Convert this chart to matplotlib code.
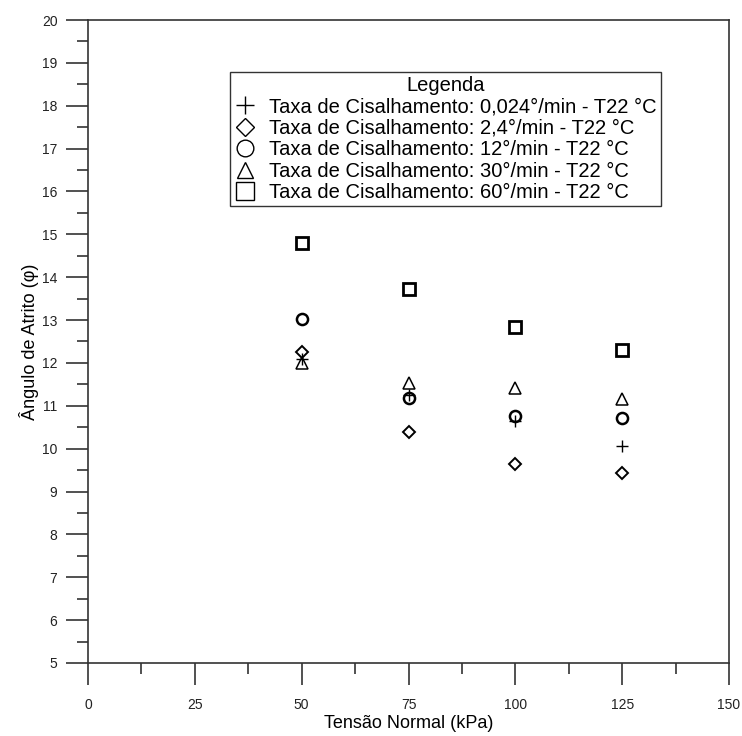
import matplotlib.pyplot as plt
from matplotlib.ticker import MultipleLocator

plt.rcParams['font.family'] = ['Liberation Sans', 'DejaVu Sans']

# tensão normal (kPa)
tensao = [50, 75, 100, 125]

# ângulo de atrito por taxa de cisalhamento
taxa_0024 = [12.1, 11.25, 10.65, 10.06]
taxa_24 = [12.26, 10.40, 9.64, 9.43]
taxa_12 = [13.02, 11.19, 10.76, 10.71]
taxa_30 = [12.0, 11.54, 11.41, 11.15]
taxa_60 = [14.80, 13.72, 12.83, 12.30]

labels = [
    "Taxa de Cisalhamento: 0,024°/min - T22 °C",
    "Taxa de Cisalhamento: 2,4°/min - T22 °C",
    "Taxa de Cisalhamento: 12°/min - T22 °C",
    "Taxa de Cisalhamento: 30°/min - T22 °C",
    "Taxa de Cisalhamento: 60°/min - T22 °C",
]

fig = plt.figure(figsize=(7.42, 7.36), dpi=100)
ax = fig.add_axes([88 / 742, 1 - 663 / 736, (729 - 88) / 742, (663 - 20) / 736])

# --- series (open black markers)
ax.plot(tensao, taxa_0024, ls='none', marker='+', ms=9, mew=1.0, color='black', label=labels[0])
ax.plot(tensao, taxa_24, ls='none', marker='D', ms=6, mew=1.4, mfc='none', mec='black', label=labels[1])
ax.plot(tensao, taxa_12, ls='none', marker='o', ms=8, mew=1.8, mfc='none', mec='black', label=labels[2])
ax.plot(tensao, taxa_30, ls='none', marker='^', ms=8, mew=1.1, mfc='none', mec='black', label=labels[3])
ax.plot(tensao, taxa_60, ls='none', marker='s', ms=8.5, mew=2.0, mfc='none', mec='black', label=labels[4])

ax.set_xlim(0, 150)
ax.set_ylim(5, 20)
ax.xaxis.set_major_locator(MultipleLocator(25))
ax.xaxis.set_minor_locator(MultipleLocator(12.5))
ax.yaxis.set_major_locator(MultipleLocator(1))
ax.yaxis.set_minor_locator(MultipleLocator(0.5))

for s in ax.spines.values():
    s.set_color('#333333')
    s.set_linewidth(1.2)

ax.tick_params(which='major', direction='out', length=16, width=1.2, color='#333333')
ax.tick_params(which='minor', direction='out', length=8, width=1.2, color='#333333')
ax.tick_params(axis='y', which='major', pad=6)
ax.tick_params(axis='x', which='major', pad=9)
for t in ax.get_xticklabels() + ax.get_yticklabels():
    t.set_fontsize(10)
    t.set_color('#222222')

ax.set_xlabel("Tensão Normal (kPa)", fontsize=13, labelpad=2)
ax.set_ylabel("Ângulo de Atrito (φ)", fontsize=13, labelpad=2)

# legend box placed in figure pixels
leg = ax.legend(
    title="Legenda", loc='upper left', bbox_to_anchor=(230 / 742, 1 - 72 / 736),
    bbox_transform=fig.transFigure,
    fontsize=14.5, title_fontsize=14.5, frameon=True, fancybox=False,
    edgecolor='black', labelspacing=0.12, handletextpad=0.65,
    handlelength=1.1, borderpad=0.2, borderaxespad=0, markerscale=1.5,
)
leg.get_frame().set_linewidth(1.0)
for h in leg.legend_handles:
    h.set_markeredgewidth(1.0)

plt.savefig("out.png", dpi=100)
